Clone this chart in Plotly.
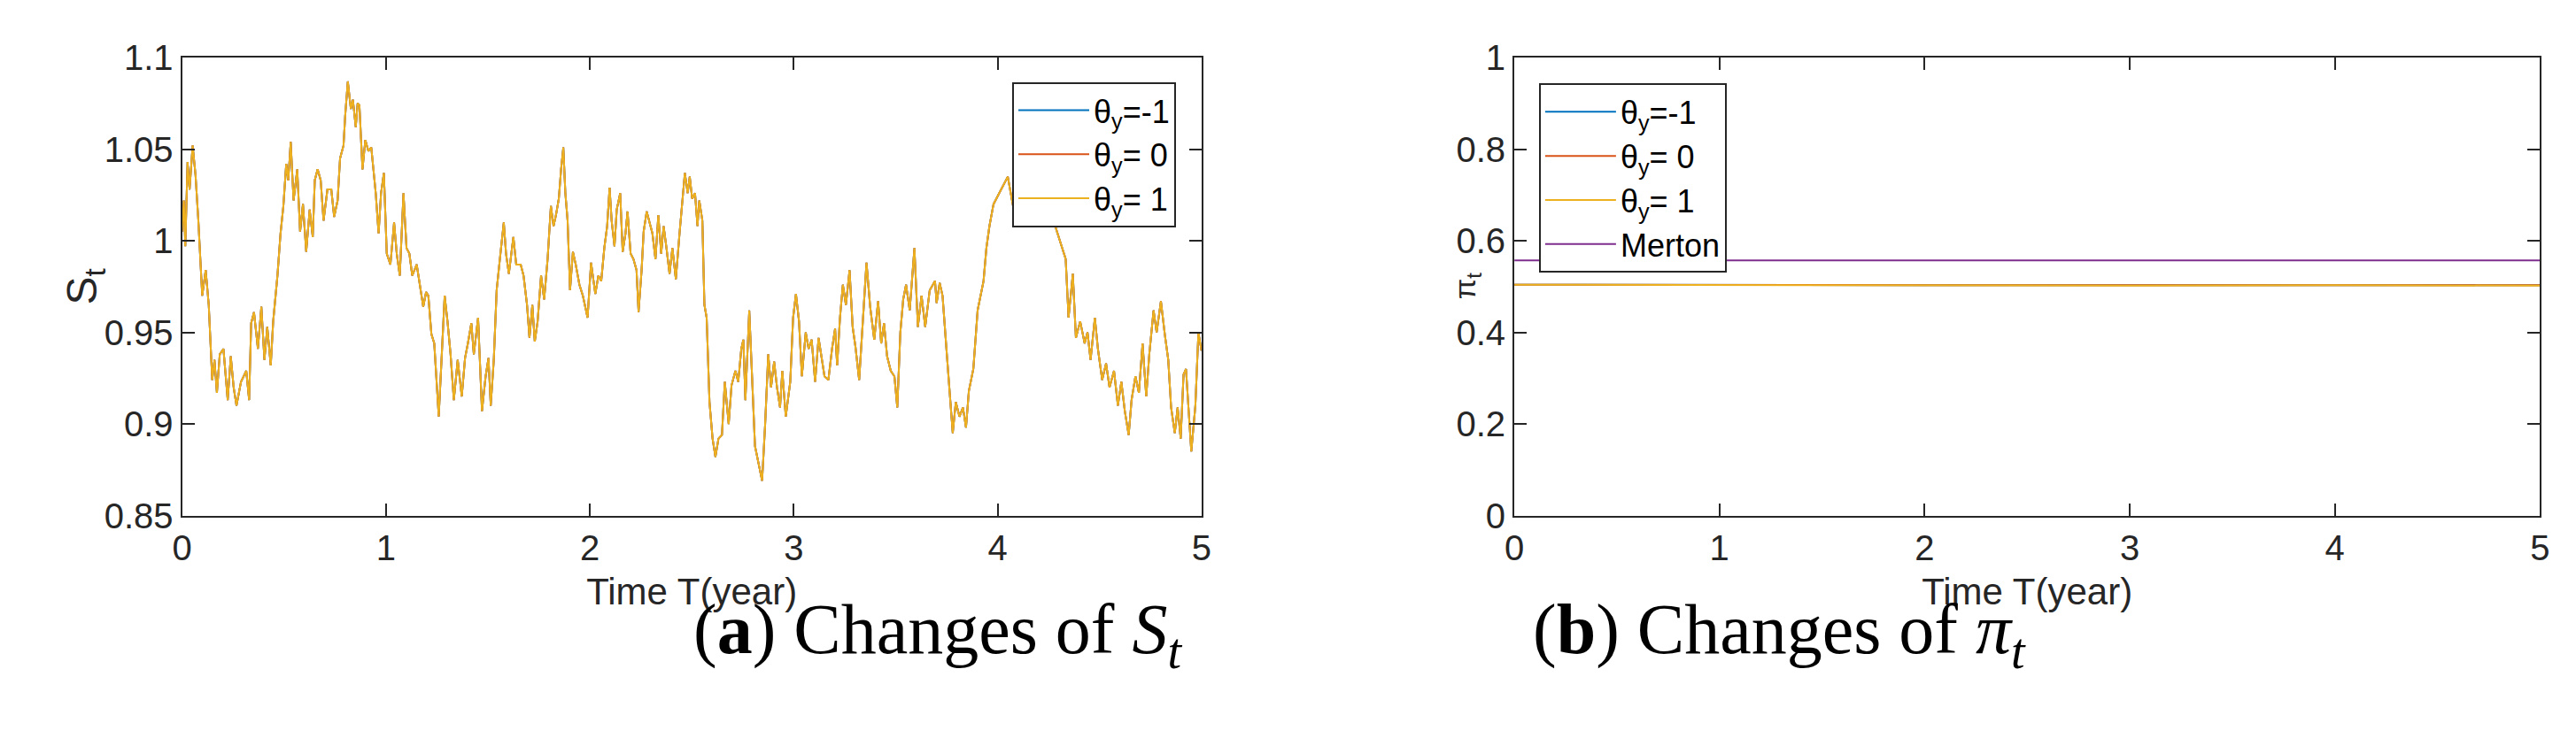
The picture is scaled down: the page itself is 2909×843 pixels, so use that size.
import plotly.graph_objects as go

# ---- data ----
t_s = [0.000,0.009,0.016,0.027,0.037,0.052,0.066,0.080,0.099,0.116,0.131,0.148,0.159,0.171,0.185,0.203,0.224,0.239,0.253,0.267,
0.289,0.315,0.329,0.339,0.353,0.372,0.389,0.404,0.418,0.435,0.447,0.468,0.483,0.497,0.511,0.521,0.533,0.547,0.565,0.579,
0.593,0.609,0.626,0.641,0.651,0.665,0.680,0.694,0.713,0.732,0.746,0.763,0.775,0.792,0.800,0.813,0.828,0.838,0.852,0.861,
0.870,0.885,0.899,0.914,0.928,0.950,0.964,0.976,0.990,1.004,1.022,1.040,1.053,1.068,1.086,1.101,1.115,1.129,1.151,1.165,
1.183,1.197,1.208,1.223,1.237,1.259,1.273,1.288,1.302,1.317,1.333,1.352,1.372,1.388,1.402,1.419,1.431,1.452,1.471,1.489,
1.503,1.514,1.529,1.543,1.557,1.578,1.589,1.603,1.625,1.639,1.661,1.675,1.692,1.704,1.718,1.730,1.744,1.761,1.776,1.793,
1.809,1.822,1.834,1.848,1.859,1.870,1.880,1.891,1.903,1.917,1.931,1.949,1.966,1.989,2.006,2.027,2.042,2.056,2.071,2.085,
2.097,2.107,2.121,2.132,2.149,2.161,2.175,2.185,2.200,2.214,2.229,2.239,2.254,2.264,2.279,2.296,2.307,2.322,2.336,2.350,
2.362,2.376,2.391,2.405,2.422,2.440,2.454,2.466,2.480,2.490,2.502,2.516,2.528,2.537,2.552,2.562,2.573,2.587,2.602,2.616,
2.631,2.648,2.662,2.681,2.695,2.714,2.728,2.743,2.753,2.763,2.782,2.796,2.810,2.845,2.860,2.875,2.889,2.904,2.918,2.933,
2.944,2.961,2.983,2.997,3.011,3.026,3.040,3.059,3.073,3.088,3.105,3.122,3.137,3.151,3.170,3.188,3.203,3.213,3.227,3.241,
3.256,3.274,3.289,3.303,3.321,3.342,3.357,3.375,3.395,3.414,3.429,3.443,3.458,3.476,3.494,3.508,3.523,3.537,3.551,3.569,
3.592,3.609,3.627,3.645,3.667,3.693,3.701,3.716,3.730,3.751,3.766,3.780,3.795,3.813,3.830,3.845,3.859,3.881,3.902,3.917,
3.931,3.945,3.960,3.980,4.050,4.090,4.150,4.220,4.290,4.334,4.348,4.369,4.384,4.405,4.427,4.441,4.456,4.477,4.492,4.513,
4.532,4.549,4.571,4.590,4.607,4.624,4.643,4.657,4.676,4.693,4.711,4.729,4.744,4.765,4.780,4.801,4.820,4.837,4.851,4.869,
4.883,4.898,4.912,4.924,4.950,4.970,4.985,5.000]
s_theta1 = [1.005,1.022,0.997,1.043,1.028,1.052,1.036,1.011,0.970,0.984,0.965,0.924,0.935,0.917,0.938,0.941,0.913,0.937,0.920,0.910,
0.923,0.929,0.913,0.955,0.961,0.941,0.964,0.935,0.953,0.932,0.956,0.981,1.004,1.019,1.042,1.033,1.054,1.022,1.039,1.005,
1.020,0.994,1.017,1.002,1.033,1.039,1.033,1.011,1.028,1.028,1.013,1.022,1.045,1.052,1.068,1.087,1.072,1.077,1.062,1.075,
1.074,1.039,1.055,1.049,1.051,1.026,1.004,1.026,1.037,0.993,0.987,1.010,0.993,0.981,1.026,0.996,0.993,0.981,0.987,0.976,
0.964,0.972,0.970,0.949,0.944,0.904,0.936,0.970,0.956,0.938,0.913,0.935,0.915,0.936,0.944,0.955,0.938,0.958,0.907,0.926,
0.936,0.910,0.935,0.973,0.988,1.010,0.993,0.982,1.002,0.987,0.987,0.981,0.965,0.947,0.965,0.945,0.956,0.981,0.968,0.990,
1.019,1.008,1.014,1.023,1.039,1.051,1.026,1.011,0.973,0.994,0.987,0.976,0.970,0.958,0.988,0.971,0.981,0.978,0.996,1.008,
1.029,1.011,0.997,1.017,1.026,0.994,1.004,1.016,0.993,0.990,0.984,0.961,0.984,1.005,1.016,1.008,1.004,0.990,1.014,0.993,
1.008,0.996,0.982,0.996,0.979,1.004,1.022,1.037,1.026,1.035,1.023,1.026,1.008,1.022,1.011,0.965,0.958,0.912,0.892,0.882,
0.892,0.894,0.923,0.900,0.921,0.929,0.923,0.941,0.946,0.913,0.962,0.927,0.888,0.869,0.900,0.938,0.920,0.934,0.920,0.909,
0.929,0.904,0.923,0.958,0.971,0.956,0.926,0.950,0.941,0.946,0.923,0.947,0.937,0.926,0.924,0.941,0.952,0.932,0.958,0.976,
0.965,0.984,0.953,0.942,0.924,0.961,0.988,0.964,0.946,0.967,0.944,0.955,0.937,0.929,0.926,0.909,0.950,0.968,0.976,0.962,
0.996,0.953,0.970,0.953,0.973,0.978,0.966,0.977,0.970,0.938,0.917,0.895,0.912,0.904,0.909,0.898,0.918,0.930,0.962,0.971,
0.978,0.996,1.008,1.020,1.035,1.010,1.040,1.030,1.005,0.990,0.958,0.982,0.947,0.956,0.944,0.950,0.935,0.958,0.941,0.924,
0.933,0.920,0.929,0.910,0.923,0.907,0.894,0.913,0.926,0.917,0.944,0.915,0.938,0.962,0.950,0.967,0.949,0.935,0.909,0.895,
0.909,0.892,0.927,0.930,0.885,0.910,0.950,0.940]

t_pi = [0, 1, 2, 3, 4, 5]
pi_theta_m1 = [0.504, 0.503, 0.503, 0.503, 0.503, 0.503]
pi_theta_0 = [0.504, 0.503, 0.503, 0.503, 0.503, 0.503]
pi_theta_1 = [0.504, 0.503, 0.503, 0.502, 0.503, 0.502]
pi_merton = [0.557, 0.557, 0.557, 0.557, 0.557, 0.557]

names = ["θ<sub>y</sub>=-1", "θ<sub>y</sub>= 0", "θ<sub>y</sub>= 1"]
colors = ["#0072BD", "#D95319", "#EDB120", "#7E2F8E"]

W, H = 2909, 843
fig = go.Figure()
for nm, c in zip(names, colors[:3]):
    fig.add_trace(go.Scatter(x=t_s, y=s_theta1, mode="lines", name=nm,
                             line=dict(color=c, width=2), xaxis="x", yaxis="y", legend="legend"))
for nm, c, ys in zip(names + ["Merton"], colors, [pi_theta_m1, pi_theta_0, pi_theta_1, pi_merton]):
    fig.add_trace(go.Scatter(x=t_pi, y=ys, mode="lines", name=nm,
                             line=dict(color=c, width=2), xaxis="x2", yaxis="y2", legend="legend2"))

tickfont = dict(family="Liberation Sans, Arial", size=40, color="#262626")
axcommon = dict(showline=True, linecolor="#262626", linewidth=2, mirror="ticks", ticks="inside",
                ticklen=14, tickcolor="#262626", tickwidth=2, showgrid=False, zeroline=False,
                tickfont=tickfont)
xdomL = [188 / W, 1348 / W]
xdomR = [1704 / W, 2871 / W]
ydom = [1 - 583 / H, 1 - 37 / H]
xtitle = dict(family="Liberation Sans, Arial", size=42, color="#262626")

legfont = dict(family="Liberation Sans, Arial", size=36, color="#000000")
fig.update_layout(
    width=W, height=H, margin=dict(l=0, r=0, t=0, b=0),
    paper_bgcolor="white", plot_bgcolor="white",
    xaxis=dict(domain=xdomL, range=[0, 5], tickvals=[0, 1, 2, 3, 4, 5], anchor="y", **axcommon,
               title=dict(text="Time T(year)", font=xtitle, standoff=14)),
    yaxis=dict(domain=ydom, range=[0.85, 1.1], tickvals=[0.85, 0.9, 0.95, 1, 1.05, 1.1],
               ticktext=["0.85", "0.9", "0.95", "1", "1.05", "1.1"], anchor="x", **axcommon),
    xaxis2=dict(domain=xdomR, range=[0, 5], tickvals=[0, 1, 2, 3, 4, 5], anchor="y2", **axcommon,
                title=dict(text="Time T(year)", font=xtitle, standoff=14)),
    yaxis2=dict(domain=ydom, range=[0, 1], tickvals=[0, 0.2, 0.4, 0.6, 0.8, 1], anchor="x2", **axcommon),
    legend=dict(x=1319 / W, y=1 - 66 / H, xanchor="right", yanchor="top", bgcolor="white",
                bordercolor="#262626", borderwidth=2, font=legfont, tracegroupgap=0, itemwidth=80),
    legend2=dict(x=1732 / W, y=1 - 68 / H, xanchor="left", yanchor="top", bgcolor="white",
                 bordercolor="#262626", borderwidth=2, font=legfont, tracegroupgap=0, itemwidth=80),
    showlegend=True,
)

cap_font = dict(family="Liberation Serif, Times New Roman, serif", size=80, color="#000000")
fig.add_annotation(text="S<sub>t</sub>", xref="paper", yref="paper", x=45 / W, y=1 - 310 / H,
                   showarrow=False, textangle=-90, font=dict(family="Liberation Sans, Arial", size=48, color="#262626"))
fig.add_annotation(text="π<sub>t</sub>", xref="paper", yref="paper", x=1650 / W, y=1 - 310 / H,
                   showarrow=False, textangle=-90, font=dict(family="Liberation Sans, Arial", size=34, color="#262626"))
fig.add_annotation(text="(<b>a</b>) Changes of <i>S</i><sub><i>t</i></sub>", xref="paper", yref="paper",
                   x=768 / W, y=1 - 780 / H, showarrow=False, font=cap_font)
fig.add_annotation(text="(<b>b</b>) Changes of <i>π</i><sub><i>t</i></sub>", xref="paper", yref="paper",
                   x=2288 / W, y=1 - 780 / H, showarrow=False, font=cap_font)

fig.write_html("out.html")
